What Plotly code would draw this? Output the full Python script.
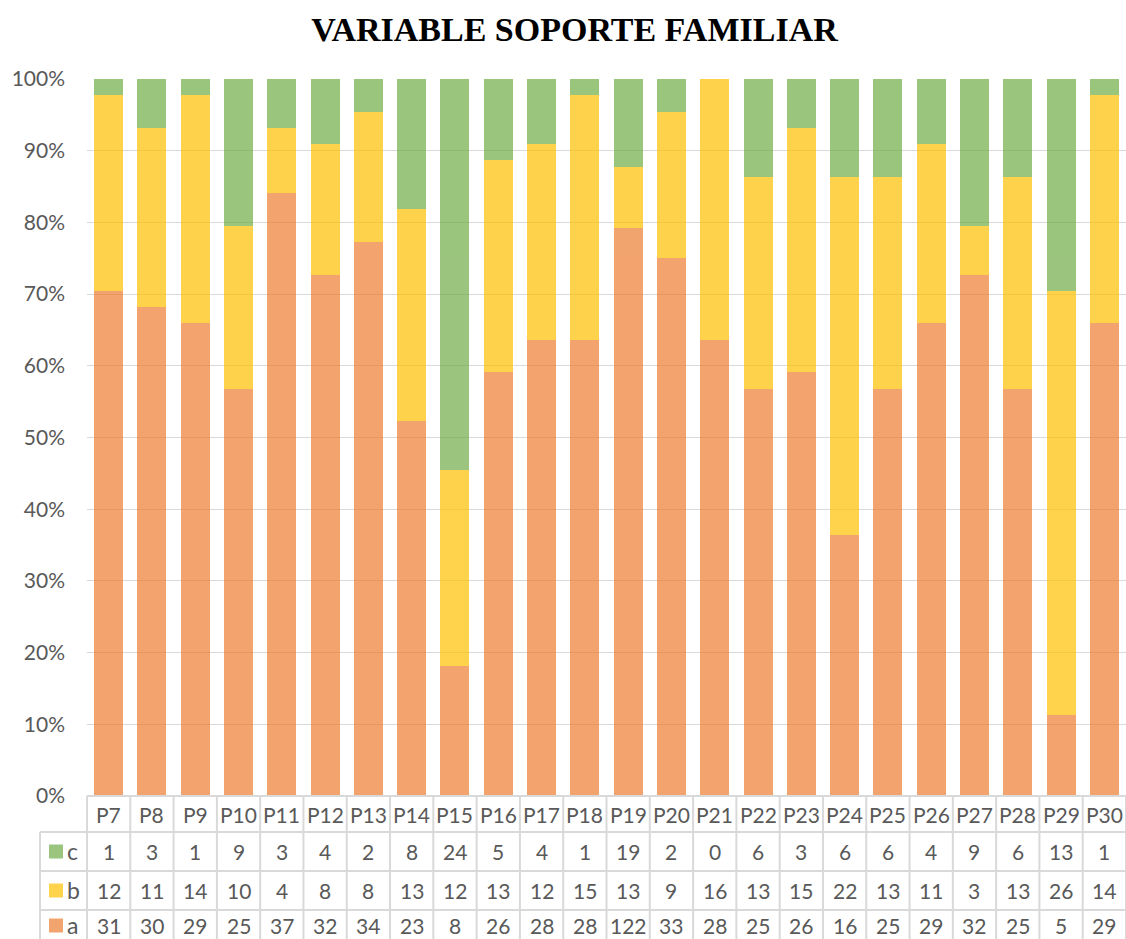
import plotly.graph_objects as go

categorias = ['P7', 'P8', 'P9', 'P10', 'P11', 'P12', 'P13', 'P14', 'P15', 'P16', 'P17', 'P18',
              'P19', 'P20', 'P21', 'P22', 'P23', 'P24', 'P25', 'P26', 'P27', 'P28', 'P29', 'P30']
serie_a = [31, 30, 29, 25, 37, 32, 34, 23, 8, 26, 28, 28, 122, 33, 28, 25, 26, 16, 25, 29, 32, 25, 5, 29]
serie_b = [12, 11, 14, 10, 4, 8, 8, 13, 12, 13, 12, 15, 13, 9, 16, 13, 15, 22, 13, 11, 3, 13, 26, 14]
serie_c = [1, 3, 1, 9, 3, 4, 2, 8, 24, 5, 4, 1, 19, 2, 0, 6, 3, 6, 6, 4, 9, 6, 13, 1]

COLORES = {'a': '#ED7D31', 'b': '#FFC000', 'c': '#70AD47'}
GRIS_TXT = '#595959'
GRIS_LINEA = '#D9D9D9'
FUENTE = 'Lato'

# geometría en píxeles del área de trazado
L, T, W_PLOT, H_PLOT = 87, 79, 1039, 717
BOTTOM = T + H_PLOT


def px_x(px):
    return (px - L) / W_PLOT


def px_y(py):
    return (BOTTOM - py) / H_PLOT


fig = go.Figure()
for nombre, valores in [('a', serie_a), ('b', serie_b), ('c', serie_c)]:
    fig.add_trace(go.Bar(
        name=nombre,
        x=categorias,
        y=valores,
        marker=dict(color=COLORES[nombre], line=dict(width=0)),
        opacity=0.7,
    ))

# tabla de datos bajo el gráfico (la última fila queda cortada por el borde, como en Excel)
filas = [('c', serie_c, 851.5), ('b', serie_b, 890.5), ('a', serie_a, 925.5)]
anot = []
shapes = []
fuente_tabla = dict(family=FUENTE, size=21, color=GRIS_TXT)

for cat in categorias:
    anot.append(dict(x=cat, y=px_y(814), xref='x', yref='paper', text=cat, showarrow=False,
                     xanchor='center', yanchor='middle', borderpad=0, font=fuente_tabla))
for nombre, valores, yc in filas:
    for cat, v in zip(categorias, valores):
        anot.append(dict(x=cat, y=px_y(yc), xref='x', yref='paper', text=str(v), showarrow=False,
                         xanchor='center', yanchor='middle', borderpad=0, font=fuente_tabla))
    anot.append(dict(x=px_x(66), y=px_y(yc - 1), xref='paper', yref='paper', text=nombre,
                     showarrow=False, xanchor='left', yanchor='middle', borderpad=0,
                     font=dict(family=FUENTE, size=23, color=GRIS_TXT)))
    shapes.append(dict(type='rect', xref='paper', yref='paper',
                       x0=px_x(49), x1=px_x(63), y0=px_y(yc - 7), y1=px_y(yc + 7),
                       fillcolor=COLORES[nombre], opacity=0.7, line=dict(width=0)))

linea = dict(color=GRIS_LINEA, width=2)
shapes.append(dict(type='line', xref='paper', yref='paper', x0=0, x1=1,
                   y0=0, y1=0, line=linea))
for yl in [832, 871, 910]:
    shapes.append(dict(type='line', xref='paper', yref='paper', x0=px_x(40), x1=1,
                       y0=px_y(yl), y1=px_y(yl), line=linea))
shapes.append(dict(type='line', xref='paper', yref='paper', x0=0, x1=0,
                   y0=0, y1=px_y(960), line=linea))
shapes.append(dict(type='line', xref='paper', yref='paper', x0=px_x(40), x1=px_x(40),
                   y0=px_y(832), y1=px_y(960), line=linea))
for i in range(len(categorias)):
    shapes.append(dict(type='line', xref='x', yref='paper', x0=i + 0.5, x1=i + 0.5,
                       y0=0, y1=px_y(960), line=linea))

fig.update_layout(
    width=1126,
    height=939,
    barmode='stack',
    barnorm='percent',
    bargap=0.33,
    showlegend=False,
    plot_bgcolor='white',
    paper_bgcolor='white',
    margin=dict(l=L, r=0, t=T, b=939 - BOTTOM, autoexpand=False),
    title=dict(text='<b>VARIABLE SOPORTE FAMILIAR</b>', x=px_x(574.5), xref='paper', xanchor='center',
               y=1 - 29 / 939, yref='container', yanchor='middle',
               font=dict(family='Liberation Serif', size=34, color='black')),
    xaxis=dict(showticklabels=False, showgrid=False, zeroline=False, showline=False,
               range=[-0.5, len(categorias) - 0.5]),
    yaxis=dict(range=[0, 100], dtick=10, ticksuffix='%', showgrid=True, gridcolor=GRIS_LINEA,
               gridwidth=1, zeroline=False, showline=False, ticks='', ticklabelstandoff=21,
               tickfont=dict(family=FUENTE, size=21, color=GRIS_TXT)),
    annotations=anot,
    shapes=shapes,
)

# sin el margen por defecto del <body> y sin barra de herramientas
fig.write_html('out.html', config={'displayModeBar': False},
               post_script="document.body.style.margin='0';")
